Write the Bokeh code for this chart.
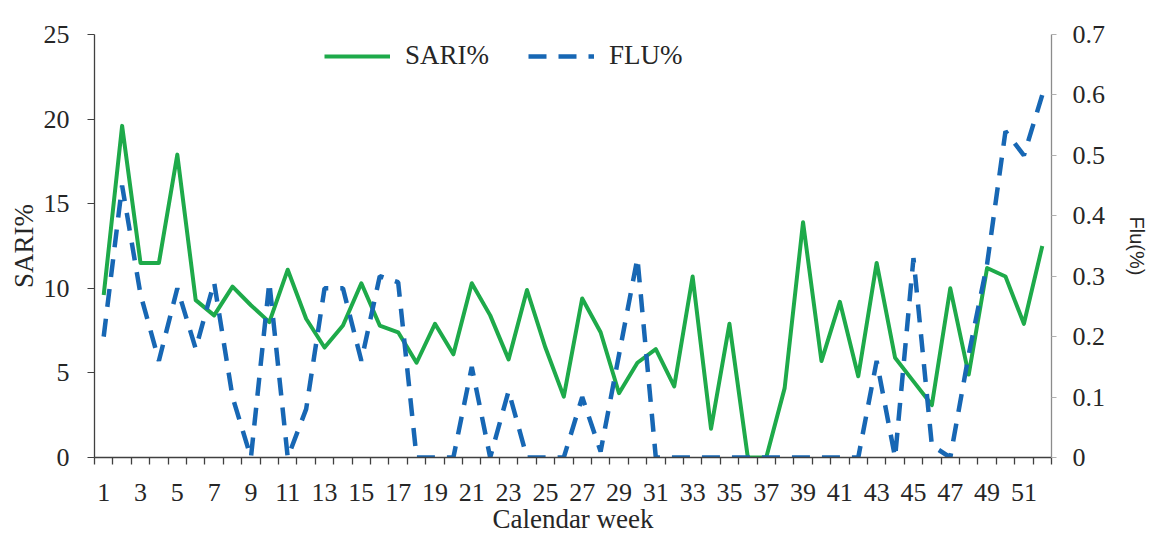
from bokeh.plotting import figure
from bokeh.models import (Range1d, LinearAxis, FixedTicker, NumeralTickFormatter,
                          Legend, LegendItem)
from bokeh.embed import file_html
from bokeh.resources import INLINE

# ---- data ----
weeks = list(range(1, 53))
sari = [9.6, 19.6, 11.5, 11.5, 17.9, 9.3, 8.4, 10.1, 9.0, 8.0,
        11.1, 8.2, 6.5, 7.8, 10.3, 7.8, 7.4, 5.6, 7.9, 6.1,
        10.3, 8.4, 5.8, 9.9, 6.5, 3.6, 9.4, 7.4, 3.8, 5.6,
        6.4, 4.2, 10.7, 1.7, 7.9, 0.0, 0.0, 4.1, 13.9, 5.7,
        9.2, 4.8, 11.5, 5.9, 4.5, 3.1, 10.0, 4.9, 11.2, 10.7,
        7.9, 12.5]
flu = [0.20, 0.45, 0.27, 0.16, 0.28, 0.18, 0.29, 0.10, 0.0, 0.29,
       0.0, 0.08, 0.28, 0.28, 0.16, 0.30, 0.29, 0.0, 0.0, 0.0,
       0.15, 0.0, 0.11, 0.0, 0.0, 0.0, 0.10, 0.01, 0.17, 0.33,
       0.0, 0.0, 0.0, 0.0, 0.0, 0.0, 0.0, 0.0, 0.0, 0.0,
       0.0, 0.0, 0.16, 0.0, 0.33, 0.02, 0.0, 0.17, 0.32, 0.54,
       0.50, 0.60]
x_tick_weeks = list(range(1, 52, 2))
left_ticks = [0, 5, 10, 15, 20, 25]
right_ticks = [0, 0.1, 0.2, 0.3, 0.4, 0.5, 0.6, 0.7]

GREEN = "#1EAA4A"
BLUE = "#1767B4"
SERIF = "Liberation Serif"

p = figure(frame_width=957, frame_height=423,
           x_range=Range1d(0.5, 52.5), y_range=Range1d(0, 25),
           output_backend="svg", toolbar_location=None,
           min_border_left=94, min_border_right=84,
           min_border_top=34, min_border_bottom=70)
p.extra_y_ranges = {"flu": Range1d(0, 0.7)}
p.xgrid.visible = False
p.ygrid.visible = False
p.outline_line_color = None
p.background_fill_color = "white"

g = p.line(weeks, sari, line_color=GREEN, line_width=4, line_join="round")
b = p.line(weeks, flu, y_range_name="flu", line_color=BLUE, line_width=4.5,
           line_dash="18 12")

# x axis
xa = p.xaxis[0]
xa.ticker = FixedTicker(ticks=x_tick_weeks,
                        minor_ticks=[w - 0.5 for w in weeks] + [weeks[-1] + 0.5])
xa.major_tick_out = 0
xa.major_tick_in = 0
xa.minor_tick_out = 7
xa.minor_tick_in = 0
xa.minor_tick_line_color = "#404040"
xa.minor_tick_line_width = 1.3
xa.axis_line_color = "#404040"
xa.axis_line_width = 1.3
xa.major_label_standoff = 19
xa.axis_label = "Calendar week"
xa.axis_label_standoff = 0
xa.axis_label_text_font_style = "normal"

# left axis
ya = p.yaxis[0]
ya.ticker = FixedTicker(ticks=left_ticks)
ya.major_tick_out = 7
ya.major_tick_in = 0
ya.minor_tick_line_color = None
ya.major_tick_line_color = "#404040"
ya.axis_line_color = "#404040"
ya.axis_line_width = 1.3
ya.major_label_standoff = 18
ya.axis_label = "SARI%"
ya.axis_label_standoff = 2
ya.axis_label_text_font_style = "normal"

# right axis
ra = LinearAxis(y_range_name="flu", ticker=FixedTicker(ticks=right_ticks),
                formatter=NumeralTickFormatter(format="0.[0]"),
                axis_label="Flu(%)")
ra.major_tick_out = 5
ra.major_tick_in = 0
ra.minor_tick_line_color = None
ra.major_tick_line_color = "#B0B0B0"
ra.axis_line_color = "#8C8C8C"
ra.axis_line_width = 1.3
ra.major_label_standoff = 16
ra.axis_label_standoff = 18
ra.axis_label_text_font = "Liberation Sans"
ra.axis_label_text_font_size = "20px"
ra.axis_label_text_font_style = "normal"
ra.axis_label_text_color = "#262626"
p.add_layout(ra, "right")

for ax in (xa, ya, ra):
    ax.major_label_text_font = SERIF
    ax.major_label_text_font_size = "26px"
    ax.major_label_text_color = "#262626"
for ax in (xa, ya):
    ax.axis_label_text_font = SERIF
    ax.axis_label_text_font_size = "27px"
    ax.axis_label_text_color = "#262626"

legend = Legend(items=[LegendItem(label="SARI%", renderers=[g]),
                       LegendItem(label="FLU%", renderers=[b])],
                orientation="horizontal", location=(230, 386),
                glyph_width=66, label_standoff=15, spacing=39,
                padding=0, margin=0, border_line_color=None,
                background_fill_alpha=0,
                label_text_font=SERIF, label_text_font_size="27px",
                label_text_color="#262626")
p.add_layout(legend)

open("out.html", "w").write(file_html(p, INLINE))
